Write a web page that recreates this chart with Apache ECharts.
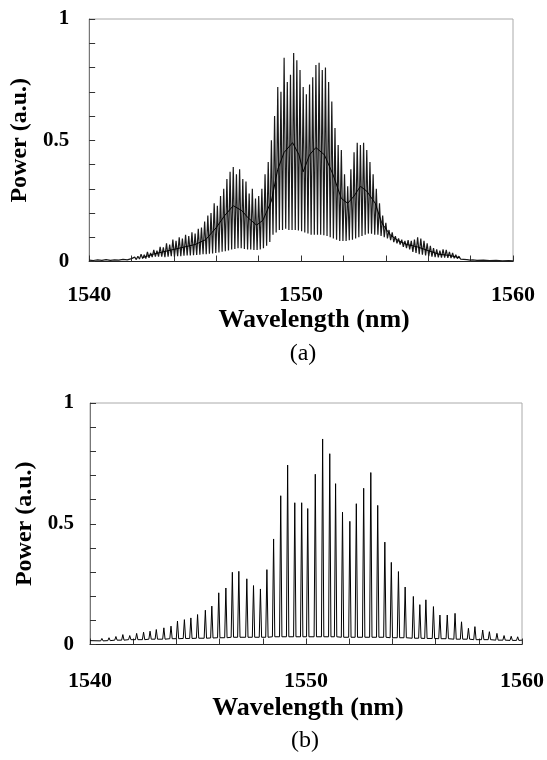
<!DOCTYPE html>
<html>
<head>
<meta charset="utf-8">
<script src="https://cdn.jsdelivr.net/npm/echarts@6/dist/echarts.min.js"></script>
<style>
html,body{margin:0;padding:0;background:#fff;}
#chart{width:547px;height:760px;}
</style>
</head>
<body>
<div id="chart"></div>
<script>
// ---------- Panel (a): dense fringe spectrum ----------
const aLeadWl = [1540.0,1540.2,1540.4,1540.6,1540.8,1541.0,1541.2,1541.4,1541.6,1541.8];
const aLead   = [0.006,0.004,0.007,0.005,0.008,0.005,0.007,0.006,0.009,0.007];
const aTopWl = [1542.00,1542.15,1542.30,1542.45,1542.60,1542.75,1542.90,1543.05,1543.20,1543.35,
  1543.50,1543.65,1543.80,1543.95,1544.10,1544.25,1544.40,1544.55,1544.70,1544.85,
  1545.00,1545.15,1545.30,1545.45,1545.60,1545.75,1545.90,1546.05,1546.20,1546.35,
  1546.50,1546.65,1546.80,1546.95,1547.10,1547.25,1547.40,1547.55,1547.70,1547.85,
  1548.00,1548.15,1548.30,1548.45,1548.60,1548.75,1548.90,1549.05,1549.20,1549.35,
  1549.50,1549.65,1549.80,1549.95,1550.10,1550.25,1550.40,1550.55,1550.70,1550.85,
  1551.00,1551.15,1551.30,1551.45,1551.60,1551.75,1551.90,1552.05,1552.20,1552.35,
  1552.50,1552.65,1552.80,1552.95,1553.10,1553.25,1553.40,1553.55,1553.70,1553.85,
  1554.00,1554.15,1554.30,1554.45,1554.60,1554.75,1554.90,1555.05,1555.20,1555.35,
  1555.50,1555.65,1555.80,1555.95,1556.10,1556.25,1556.40,1556.55,1556.70,1556.85,
  1557.00,1557.15,1557.30,1557.45,1557.60,1557.75,1557.90];
const aTop = [0.012,0.018,0.022,0.030,0.028,0.040,0.035,0.048,0.045,0.060,
  0.058,0.075,0.070,0.090,0.085,0.100,0.095,0.110,0.105,0.120,
  0.115,0.135,0.140,0.165,0.190,0.200,0.240,0.230,0.270,0.300,
  0.340,0.370,0.390,0.360,0.380,0.340,0.330,0.280,0.300,0.260,
  0.270,0.300,0.360,0.410,0.500,0.600,0.720,0.700,0.840,0.740,
  0.770,0.860,0.830,0.790,0.720,0.690,0.730,0.760,0.810,0.820,
  0.790,0.800,0.740,0.660,0.550,0.480,0.460,0.360,0.310,0.380,
  0.450,0.490,0.480,0.490,0.460,0.410,0.360,0.300,0.240,0.190,
  0.160,0.130,0.120,0.105,0.095,0.090,0.085,0.088,0.085,0.090,
  0.100,0.095,0.085,0.075,0.065,0.055,0.050,0.045,0.050,0.048,
  0.040,0.035,0.028,0.022,0.018,0.014,0.010];
const aBottom = [0.006,0.008,0.010,0.012,0.012,0.015,0.018,0.020,0.020,0.020,
  0.018,0.020,0.022,0.020,0.022,0.022,0.024,0.025,0.025,0.026,
  0.027,0.028,0.030,0.030,0.032,0.033,0.035,0.037,0.040,0.042,
  0.045,0.050,0.052,0.055,0.055,0.052,0.050,0.050,0.048,0.048,
  0.050,0.055,0.065,0.080,0.110,0.120,0.130,0.130,0.135,0.130,
  0.130,0.130,0.128,0.125,0.120,0.115,0.110,0.110,0.110,0.110,
  0.108,0.105,0.100,0.095,0.090,0.085,0.085,0.085,0.088,0.090,
  0.095,0.100,0.105,0.110,0.115,0.115,0.110,0.110,0.105,0.100,
  0.095,0.088,0.080,0.075,0.070,0.060,0.055,0.050,0.040,0.035,
  0.030,0.028,0.025,0.022,0.020,0.018,0.017,0.016,0.016,0.015,
  0.014,0.013,0.012,0.010,0.009,0.008,0.006];
const aTailWl = [1558.1,1558.3,1558.6,1558.9,1559.2,1559.5,1559.8,1560.0];
const aTail   = [0.007,0.005,0.006,0.004,0.005,0.003,0.004,0.003];
// dark mean trace visible through the fringe band
const aMidWl = [1542.5,1543.0,1543.5,1544.0,1544.5,1545.0,1545.5,1546.0,1546.4,1546.8,
  1547.2,1547.5,1547.9,1548.2,1548.6,1548.9,1549.2,1549.6,1549.9,1550.1,
  1550.4,1550.7,1551.1,1551.5,1551.9,1552.2,1552.5,1552.8,1553.1,1553.5,
  1553.8,1554.2,1554.6,1555.0,1555.5,1556.0,1556.5,1557.0,1557.5];
const aMid = [0.015,0.030,0.040,0.050,0.060,0.070,0.090,0.140,0.190,0.230,
  0.210,0.180,0.150,0.170,0.250,0.380,0.450,0.490,0.440,0.370,
  0.440,0.470,0.440,0.360,0.260,0.240,0.270,0.310,0.290,0.240,
  0.160,0.110,0.085,0.070,0.060,0.045,0.030,0.025,0.015];

// ---------- Panel (b): resolved comb lines ----------
const bPeakWl = [1540.55,1540.88,1541.20,1541.52,1541.84,1542.16,1542.48,1542.78,1543.07,1543.42,
  1543.75,1544.05,1544.37,1544.67,1544.98,1545.34,1545.64,1545.96,1546.29,1546.59,
  1546.89,1547.26,1547.57,1547.89,1548.19,1548.50,1548.83,1549.15,1549.48,1549.80,
  1550.08,1550.43,1550.77,1551.10,1551.37,1551.69,1552.03,1552.33,1552.67,1553.00,
  1553.32,1553.65,1553.95,1554.28,1554.59,1554.97,1555.27,1555.55,1555.90,1556.20,
  1556.54,1556.90,1557.20,1557.52,1557.82,1558.18,1558.49,1558.84,1559.17,1559.50,
  1559.80];
const bPeak = [0.025,0.028,0.033,0.041,0.037,0.046,0.051,0.055,0.062,0.069,
  0.076,0.097,0.103,0.110,0.124,0.142,0.159,0.214,0.234,0.299,
  0.303,0.272,0.244,0.230,0.310,0.437,0.616,0.743,0.587,0.587,
  0.563,0.705,0.851,0.790,0.666,0.548,0.510,0.583,0.647,0.712,
  0.576,0.424,0.340,0.302,0.238,0.199,0.165,0.185,0.157,0.122,
  0.122,0.129,0.094,0.067,0.074,0.060,0.053,0.046,0.037,0.034,
  0.032];
const bBase = [0.015,0.016,0.018,0.018,0.020,0.020,0.020,0.022,0.022,0.022,
  0.024,0.024,0.025,0.025,0.026,0.026,0.027,0.028,0.028,0.030,
  0.030,0.030,0.030,0.030,0.030,0.032,0.032,0.032,0.032,0.032,
  0.032,0.032,0.032,0.032,0.032,0.030,0.030,0.030,0.030,0.030,
  0.030,0.030,0.028,0.028,0.028,0.026,0.026,0.025,0.025,0.024,
  0.024,0.022,0.022,0.022,0.020,0.020,0.020,0.018,0.018,0.017,
  0.017];
const bStart = [1540.0, 0.016];
const bEnd = [1560.0, 0.018];

// tick labels
const xTickLabels = [1540, 1550, 1560];
const yTickLabels = ['0', '0.5', '1'];

// ---------- build series data ----------
const aHalfPeriod = 0.075;   // trough sits half a fringe after each crest
const aData = [];
aLeadWl.forEach((w, i) => aData.push([w, aLead[i]]));
aTopWl.forEach((w, i) => { aData.push([w, aTop[i]]); aData.push([w + aHalfPeriod, aBottom[i]]); });
aTailWl.forEach((w, i) => aData.push([w, aTail[i]]));
const aMidData = aMidWl.map((w, i) => [w, aMid[i]]);

const bHalfWidth = 0.055;    // half width of each comb line at its base
const bData = [bStart];
bPeakWl.forEach((w, i) => {
  bData.push([w - bHalfWidth, bBase[i]]);
  bData.push([w, bPeak[i]]);
  bData.push([w + bHalfWidth, bBase[i]]);
});
bData.push(bEnd);

const FONT = '"Liberation Serif", "Times New Roman", serif';

function mkX(gi, margin, gap, padLeft) {
  return {
    type: 'value', gridIndex: gi, min: 1540, max: 1560, interval: 2,
    axisLine: { show: true, onZero: false, lineStyle: { color: '#222', width: 1 } },
    axisTick: { show: true, inside: true, length: 6, lineStyle: { color: '#333', width: 1 } },
    axisLabel: {
      margin: margin, fontFamily: FONT, fontWeight: 'bold', fontSize: 22, color: '#000',
      formatter: v => xTickLabels.indexOf(Math.round(v)) >= 0 && Math.abs(v - Math.round(v)) < 1e-6 ? String(Math.round(v)) : ''
    },
    splitLine: { show: false },
    name: 'Wavelength (nm)', nameLocation: 'middle', nameGap: gap,
    nameTextStyle: { fontFamily: FONT, fontWeight: 'bold', fontSize: 26, color: '#000', padding: [0, 0, 0, padLeft] }
  };
}
function mkY(gi, margin, gap) {
  return {
    type: 'value', gridIndex: gi, min: 0, max: 1, interval: 0.1,
    axisLine: { show: true, onZero: false, lineStyle: { color: '#777', width: 1 } },
    axisTick: { show: true, inside: true, length: 6, lineStyle: { color: '#333', width: 1 } },
    axisLabel: {
      margin: margin, fontFamily: FONT, fontWeight: 'bold', fontSize: 21, color: '#000',
      formatter: v => { const k = Math.round(v * 10); return k === 0 ? yTickLabels[0] : k === 5 ? yTickLabels[1] : k === 10 ? yTickLabels[2] : ''; }
    },
    splitLine: { show: false },
    name: 'Power (a.u.)', nameLocation: 'middle', nameGap: gap,
    nameTextStyle: { fontFamily: FONT, fontWeight: 'bold', fontSize: 24, color: '#000' }
  };
}

const chart = echarts.init(document.getElementById('chart'), null, { renderer: 'canvas' });
chart.setOption({
  animation: false,
  backgroundColor: '#fff',
  grid: [
    { left: 82, top: 19, width: 431, height: 242.5, show: true, borderColor: '#aaa', borderWidth: 1, backgroundColor: 'transparent' },
    { left: 90, top: 403, width: 433, height: 241.5, show: true, borderColor: '#aaa', borderWidth: 1, backgroundColor: 'transparent' }
  ],
  xAxis: [mkX(0, 23, 46, 26), mkX(1, 26, 51, 4)],
  yAxis: [mkY(0, 20, 52), mkY(1, 16, 47)],
  series: [
    { type: 'line', xAxisIndex: 0, yAxisIndex: 0, data: aData, symbol: 'none', lineStyle: { color: '#1a1a1a', width: 1.2 }, clip: true },
    { type: 'line', xAxisIndex: 0, yAxisIndex: 0, data: aMidData, symbol: 'none', lineStyle: { color: '#000', width: 1 }, clip: true },
    { type: 'line', xAxisIndex: 1, yAxisIndex: 1, data: bData, symbol: 'none', lineStyle: { color: '#000', width: 1 }, clip: true }
  ],
  graphic: [
    { type: 'text', x: 303, y: 354, style: { text: '(a)', font: '24px ' + FONT, fill: '#000', textAlign: 'center', textVerticalAlign: 'middle' } },
    { type: 'text', x: 305, y: 741, style: { text: '(b)', font: '24px ' + FONT, fill: '#000', textAlign: 'center', textVerticalAlign: 'middle' } }
  ]
});
</script>
</body>
</html>
